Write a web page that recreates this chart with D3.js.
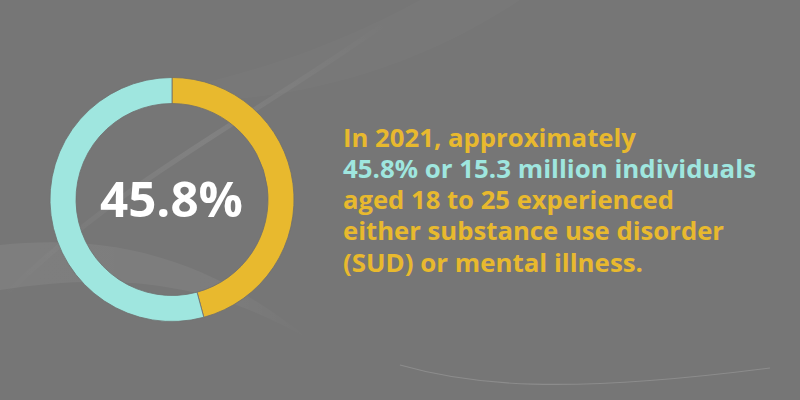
<!DOCTYPE html>
<html>
<head>
<meta charset="utf-8">
<script src="https://cdn.jsdelivr.net/npm/d3@7"></script>
<style>
  html, body { margin: 0; padding: 0; background: #767676; }
  svg { display: block; }
</style>
</head>
<body>
<script>
// ---- data ----
const categories = ["SUD or mental illness", "Other"];
const values = [45.8, 54.2];
const centerLabel = "45.8%";
const textLines = [
  "In 2021, approximately",
  "45.8% or 15.3 million individuals",
  "aged 18 to 25 experienced",
  "either substance use disorder",
  "(SUD) or mental illness."
];
const lineHighlight = [false, true, false, false, false];

// ---- drawing ----
const W = 800, H = 400;
const svg = d3.select("body").append("svg").attr("width", W).attr("height", H);
const defs = svg.append("defs");

svg.append("rect").attr("width", W).attr("height", H).attr("fill", "#767676");

// subtle background swooshes
const g1 = defs.append("linearGradient").attr("id", "sw1").attr("x1", "0").attr("y1", "1").attr("x2", "1").attr("y2", "0");
g1.append("stop").attr("offset", "0").attr("stop-color", "#fff").attr("stop-opacity", 0.0);
g1.append("stop").attr("offset", "0.55").attr("stop-color", "#fff").attr("stop-opacity", 0.08);
g1.append("stop").attr("offset", "1").attr("stop-color", "#fff").attr("stop-opacity", 0.0);
const g2 = defs.append("linearGradient").attr("id", "sw2").attr("x1", "0").attr("y1", "0").attr("x2", "1").attr("y2", "0");
g2.append("stop").attr("offset", "0").attr("stop-color", "#fff").attr("stop-opacity", 0.06);
g2.append("stop").attr("offset", "0.7").attr("stop-color", "#fff").attr("stop-opacity", 0.05);
g2.append("stop").attr("offset", "1").attr("stop-color", "#fff").attr("stop-opacity", 0.0);

const bg = svg.append("g");
bg.append("path")
  .attr("d", "M0,245 C100,235 200,250 310,340 C200,275 100,275 0,290 Z")
  .attr("fill", "url(#sw2)");
bg.append("path")
  .attr("d", "M0,300 C120,180 250,120 390,20")
  .attr("fill", "none").attr("stroke", "url(#sw1)").attr("stroke-width", 5);
bg.append("path")
  .attr("d", "M130,100 C220,80 310,60 420,0 L520,0 C400,80 260,110 130,100 Z")
  .attr("fill", "#fff").attr("opacity", 0.02);
bg.append("path")
  .attr("d", "M400,365 C470,385 560,395 770,368")
  .attr("fill", "none").attr("stroke", "#fff").attr("stroke-opacity", 0.16).attr("stroke-width", 1.2);

// donut
const cx = 172, cy = 199.5, outerR = 122, innerR = 96;
const color = d3.scaleOrdinal().domain(categories).range(["#e8b92e", "#9fe6df"]);
const pie = d3.pie().sort(null).value(d => d.value);
const arc = d3.arc().innerRadius(innerR).outerRadius(outerR);
const data = categories.map((c, i) => ({ category: c, value: values[i] }));

svg.append("g").attr("transform", `translate(${cx},${cy})`)
  .selectAll("path").data(pie(data)).join("path")
  .attr("d", arc)
  .attr("fill", d => color(d.data.category))
  .attr("stroke", "#6f6f6f").attr("stroke-width", 0.8);

svg.append("text")
  .attr("x", 100).attr("y", 217)
  .attr("font-family", "'Open Sans', sans-serif")
  .attr("font-weight", 700)
  .attr("font-size", 49)
  .attr("fill", "#ffffff")
  .attr("textLength", 143)
  .attr("lengthAdjust", "spacingAndGlyphs")
  .text(centerLabel);

// right text
const baselines = [146.5, 177.5, 208.5, 240, 271.5];
const widths = [293, 413, 331, 381, 300];
svg.append("g").selectAll("text").data(textLines).join("text")
  .attr("x", 343)
  .attr("y", (d, i) => baselines[i])
  .attr("font-family", "'Open Sans', sans-serif")
  .attr("font-weight", 700)
  .attr("font-size", 25)
  .attr("fill", (d, i) => lineHighlight[i] ? "#9fe6df" : "#e8b92e")
  .attr("textLength", (d, i) => widths[i])
  .attr("lengthAdjust", "spacingAndGlyphs")
  .text(d => d);
</script>
</body>
</html>
